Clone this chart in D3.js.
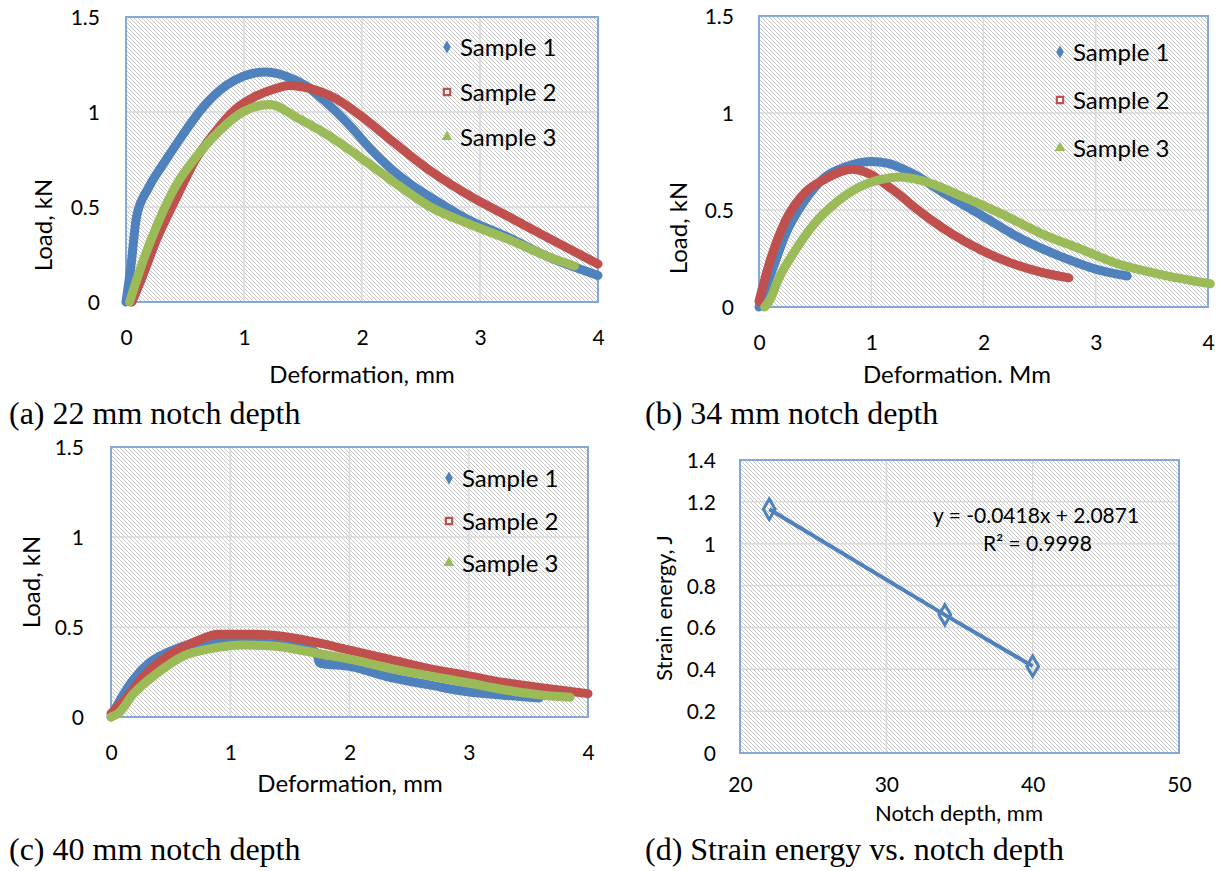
<!DOCTYPE html>
<html>
<head>
<meta charset="utf-8">
<script src="https://cdn.jsdelivr.net/npm/d3@7"></script>
<style>
  body { margin: 0; background: #fff; }
  svg { display: block; }
  .tick text { font-family: Lato, "Open Sans", sans-serif; font-size: 21px; fill: #000; }
</style>
</head>
<body>
<div id="chart"></div>
<script>
// ---- data ----
// colours for the three samples
const sampleNames = ["Sample 1", "Sample 2", "Sample 3"];
const sampleColors = ["#4f81bd", "#c0504d", "#9bbb59"];

// tick labels
const defTicks = [0, 1, 2, 3, 4];
const loadTicks = [0, 0.5, 1, 1.5];
const depthTicks = [20, 30, 40, 50];
const energyTicks = [0, 0.2, 0.4, 0.6, 0.8, 1, 1.2, 1.4];

// (a) 22 mm notch depth  [deformation mm, load kN]
const a_s1 = [[0,0],[0.04,0.18],[0.09,0.45],[0.19,0.6],[0.32,0.73],[0.47,0.87],[0.66,1.03],[0.85,1.14],[1.0,1.19],[1.18,1.21],[1.35,1.19],[1.52,1.14],[1.68,1.06],[1.91,0.92],[2.08,0.8],[2.41,0.62],[2.61,0.54],[2.91,0.43],[3.24,0.34],[3.57,0.24],[4.0,0.14]];
const a_s2 = [[0.05,0],[0.13,0.12],[0.26,0.33],[0.42,0.54],[0.59,0.75],[0.75,0.89],[0.92,1.01],[1.09,1.08],[1.25,1.12],[1.38,1.14],[1.58,1.12],[1.75,1.08],[2.01,0.97],[2.25,0.85],[2.58,0.69],[2.91,0.56],[3.24,0.45],[3.57,0.34],[4.0,0.2]];
const a_s3 = [[0.03,0],[0.13,0.19],[0.26,0.4],[0.42,0.61],[0.59,0.76],[0.79,0.9],[0.99,1.0],[1.22,1.04],[1.45,0.97],[1.68,0.89],[2.01,0.75],[2.25,0.64],[2.58,0.5],[2.91,0.41],[3.24,0.33],[3.57,0.24],[3.8,0.19]];

// (b) 34 mm notch depth
const b_s1 = [[0,0],[0.05,0.08],[0.13,0.21],[0.24,0.38],[0.41,0.55],[0.59,0.67],[0.76,0.72],[1.0,0.75],[1.15,0.74],[1.36,0.69],[1.64,0.59],[1.99,0.47],[2.34,0.35],[2.69,0.26],[3.03,0.19],[3.28,0.16]];
const b_s2 = [[0,0.03],[0.1,0.24],[0.24,0.45],[0.41,0.59],[0.59,0.66],[0.83,0.71],[0.97,0.69],[1.18,0.61],[1.46,0.48],[1.71,0.38],[1.99,0.29],[2.23,0.23],[2.51,0.18],[2.76,0.15]];
const b_s3 = [[0.05,0],[0.1,0.04],[0.17,0.14],[0.31,0.28],[0.48,0.42],[0.69,0.54],[0.9,0.62],[1.11,0.66],[1.25,0.67],[1.46,0.65],[1.81,0.57],[2.16,0.48],[2.51,0.38],[2.86,0.3],[3.21,0.22],[3.56,0.17],[4.02,0.12]];

// (c) 40 mm notch depth
const c_s1 = [[0,0],[0.09,0.11],[0.19,0.21],[0.32,0.3],[0.48,0.36],[0.71,0.41],[1.0,0.42],[1.29,0.41],[1.55,0.39],[1.72,0.36],[1.75,0.3],[2.01,0.28],[2.34,0.22],[2.66,0.18],[2.99,0.14],[3.31,0.12],[3.59,0.105]];
const c_s2 = [[0,0.02],[0.12,0.1],[0.28,0.23],[0.48,0.34],[0.71,0.42],[0.9,0.46],[1.16,0.46],[1.42,0.45],[1.75,0.41],[2.01,0.37],[2.34,0.32],[2.66,0.27],[2.99,0.23],[3.31,0.19],[3.64,0.16],[4.0,0.13]];
const c_s3 = [[0,0],[0.06,0.02],[0.19,0.13],[0.38,0.24],[0.61,0.34],[0.84,0.38],[1.1,0.4],[1.36,0.395],[1.68,0.36],[2.01,0.32],[2.34,0.27],[2.66,0.23],[2.99,0.19],[3.31,0.15],[3.64,0.12],[3.85,0.11]];

// (d) strain energy vs notch depth
const notchDepth = [22, 34, 40];
const strainEnergy = [1.165, 0.66, 0.415];

// ---- layout ----
let svgWidth = 1222;
let svgHeight = 871;

let svg = d3.select("#chart")
  .append("svg")
  .attr("width", svgWidth)
  .attr("height", svgHeight);

// grey diagonal hatch like the excel plot area fill
let defs = svg.append("defs");
let pat = defs.append("pattern")
  .attr("id", "hatch")
  .attr("patternUnits", "userSpaceOnUse")
  .attr("width", 4)
  .attr("height", 4);
pat.append("rect").attr("width", 4).attr("height", 4).attr("fill", "#fff");
pat.append("path")
  .attr("d", "M-1,-1L5,5M-1,3L1,5M3,-1L5,1")
  .attr("stroke", "#c6c6c6")
  .attr("stroke-width", 1);

let panels = [
  {left:126, right:598, top:17, bottom:302, xDomain:[0,4], yDomain:[0,1.5], xTicks:defTicks, yTicks:loadTicks,
   yLabRight:100, xLabBase:345, xTitle:"Deformation, mm", xTitleX:362, xTitleBase:383, titleSize:24,
   yTitle:"Load, kN", yTitleX:45, yTitleY:225, caption:"(a) 22 mm notch depth", capX:9, capBase:424,
   series:[a_s1, a_s2, a_s3], legX:447, legY:[47, 92, 137]},
  {left:759, right:1208, top:16, bottom:307, xDomain:[0,4], yDomain:[0,1.5], xTicks:defTicks, yTicks:loadTicks,
   yLabRight:734, xLabBase:350, xTitle:"Deformation. Mm", xTitleX:957, xTitleBase:383, titleSize:24,
   yTitle:"Load, kN", yTitleX:680, yTitleY:228, caption:"(b) 34 mm notch depth", capX:645, capBase:424,
   series:[b_s1, b_s2, b_s3], legX:1060, legY:[52, 100, 148]},
  {left:111, right:588, top:447, bottom:717, xDomain:[0,4], yDomain:[0,1.5], xTicks:defTicks, yTicks:loadTicks,
   yLabRight:84, xLabBase:760, xTitle:"Deformation, mm", xTitleX:350, xTitleBase:792, titleSize:24,
   yTitle:"Load, kN", yTitleX:33, yTitleY:582, caption:"(c) 40 mm notch depth", capX:9, capBase:860,
   series:[c_s1, c_s2, c_s3], legX:449, legY:[478, 521, 563]},
  {left:740, right:1179, top:460, bottom:753, xDomain:[20,50], yDomain:[0,1.4], xTicks:depthTicks, yTicks:energyTicks,
   yLabRight:716, xLabBase:792, xTitle:"Notch depth, mm", xTitleX:959, xTitleBase:821, titleSize:22,
   yTitle:"Strain energy, J", yTitleX:665, yTitleY:608, caption:"(d) Strain energy vs. notch depth", capX:645, capBase:860,
   series:null}
];

function markerPath(i, size) {
  let sym = [d3.symbolDiamond, d3.symbolSquare, d3.symbolTriangle][i];
  return d3.symbol().type(sym).size(size)();
}

panels.forEach(function(p) {
  let g = svg.append("g");
  let xScale = d3.scaleLinear().domain(p.xDomain).range([p.left, p.right]);
  let yScale = d3.scaleLinear().domain(p.yDomain).range([p.bottom, p.top]);

  // plot area + hatch
  g.append("rect")
    .attr("x", p.left).attr("y", p.top)
    .attr("width", p.right - p.left).attr("height", p.bottom - p.top)
    .attr("fill", "url(#hatch)");

  // gridlines
  g.selectAll("line.vg").data(p.xTicks).enter().append("line")
    .attr("x1", d => xScale(d)).attr("x2", d => xScale(d))
    .attr("y1", p.top).attr("y2", p.bottom)
    .attr("stroke", "#d9d9d9").attr("stroke-width", 1.5);
  g.selectAll("line.hg").data(p.yTicks).enter().append("line")
    .attr("x1", p.left).attr("x2", p.right)
    .attr("y1", d => yScale(d)).attr("y2", d => yScale(d))
    .attr("stroke", "#d9d9d9").attr("stroke-width", 1.5);

  // border
  g.append("rect")
    .attr("x", p.left).attr("y", p.top)
    .attr("width", p.right - p.left).attr("height", p.bottom - p.top)
    .attr("fill", "none").attr("stroke", "#86a8d8").attr("stroke-width", 2);

  // axes (labels only)
  let fmt = d => String(+d.toFixed(1));
  let xAxis = d3.axisBottom(xScale).tickValues(p.xTicks).tickFormat(fmt).tickSize(0);
  let yAxis = d3.axisLeft(yScale).tickValues(p.yTicks).tickFormat(fmt).tickSize(0);

  let gx = g.append("g").attr("transform", "translate(0," + p.bottom + ")").call(xAxis);
  gx.select(".domain").remove();
  gx.selectAll("text").attr("y", p.xLabBase - p.bottom).attr("dy", null);

  let gy = g.append("g").attr("transform", "translate(" + p.left + ",0)").call(yAxis);
  gy.select(".domain").remove();
  gy.selectAll("text").attr("x", p.yLabRight - p.left).attr("dy", "0.36em");

  // axis titles
  g.append("text")
    .attr("x", p.xTitleX).attr("y", p.xTitleBase)
    .attr("text-anchor", "middle")
    .style("font-family", "Lato, sans-serif").style("font-size", p.titleSize + "px")
    .text(p.xTitle);
  g.append("text")
    .attr("transform", "translate(" + p.yTitleX + "," + p.yTitleY + ")rotate(-90)")
    .attr("text-anchor", "middle").attr("dy", "0.3em")
    .style("font-family", "Lato, sans-serif").style("font-size", p.titleSize + "px")
    .text(p.yTitle);

  // caption
  g.append("text")
    .attr("x", p.capX).attr("y", p.capBase)
    .style("font-family", "'Liberation Serif', 'Times New Roman', serif").style("font-size", "32px")
    .text(p.caption);

  if (p.series) {
    let line = d3.line()
      .x(d => xScale(d[0]))
      .y(d => yScale(d[1]))
      .curve(d3.curveMonotoneX);

    p.series.forEach(function(s, i) {
      g.append("path")
        .attr("d", line(s))
        .attr("fill", "none")
        .attr("stroke", sampleColors[i])
        .attr("stroke-width", 9)
        .attr("stroke-linecap", "round")
        .attr("stroke-linejoin", "round");
    });

    // legend
    sampleNames.forEach(function(name, i) {
      let ly = p.legY[i];
      let m = g.append("path")
        .attr("d", markerPath(i, i === 1 ? 40 : 50))
        .attr("transform", "translate(" + p.legX + "," + ly + ")");
      if (i === 1) {
        m.attr("fill", "#fff").attr("stroke", sampleColors[i]).attr("stroke-width", 2.2);
      } else {
        m.attr("fill", sampleColors[i]);
      }
      g.append("text")
        .attr("x", p.legX + 13).attr("y", ly).attr("dy", "0.36em")
        .style("font-family", "Lato, sans-serif").style("font-size", "24px")
        .text(name);
    });
  } else {
    let pts = notchDepth.map((d, i) => [d, strainEnergy[i]]);
    g.append("path")
      .attr("d", d3.line().x(d => xScale(d[0])).y(d => yScale(d[1]))(pts))
      .attr("fill", "none")
      .attr("stroke", "#4f81bd")
      .attr("stroke-width", 4);
    g.selectAll("path.pt").data(pts).enter().append("path")
      .attr("d", d3.symbol().type(d3.symbolDiamond).size(120)())
      .attr("transform", d => "translate(" + xScale(d[0]) + "," + yScale(d[1]) + ")")
      .attr("fill", "none")
      .attr("stroke", "#4f81bd")
      .attr("stroke-width", 3);

    g.append("text")
      .attr("x", 933).attr("y", 523)
      .style("font-family", "Lato, sans-serif").style("font-size", "21px")
      .text("y = -0.0418x + 2.0871");
    g.append("text")
      .attr("x", 983).attr("y", 551)
      .style("font-family", "Lato, sans-serif").style("font-size", "21px")
      .text("R² = 0.9998");
  }
});
</script>
</body>
</html>
